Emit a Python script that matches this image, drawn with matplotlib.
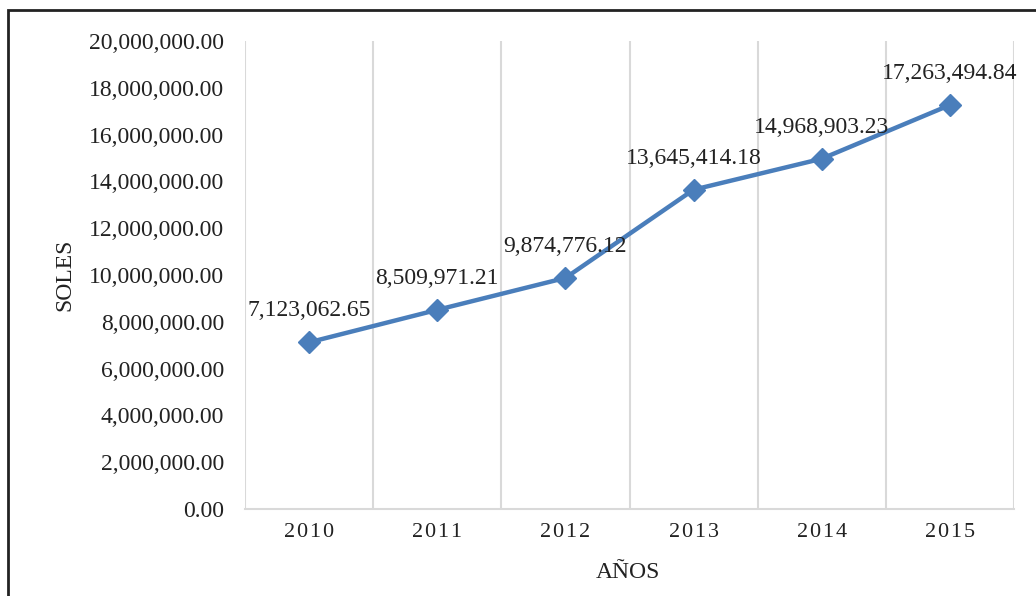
import matplotlib
matplotlib.use("Agg")
import matplotlib.pyplot as plt
from matplotlib.patches import Rectangle
from matplotlib.ticker import FuncFormatter, MultipleLocator

years = ["2010", "2011", "2012", "2013", "2014", "2015"]
values = [7123062.65, 8509971.21, 9874776.12, 13645414.18, 14968903.23, 17263494.84]

plt.rcParams['font.family'] = ['Liberation Serif', 'DejaVu Serif']

W, H = 1036, 596
fig = plt.figure(figsize=(W / 100, H / 100), dpi=100)
fig.patch.set_facecolor('white')

# outer frame
fig.add_artist(Rectangle((8 / W, -0.01), 1.2, 1 - 10 / H + 0.01, transform=fig.transFigure,
                         fill=False, edgecolor='#222222', linewidth=2))

ax = fig.add_axes([245 / W, 1 - 509 / H, (1014 - 245) / W, (509 - 41) / H])
x = list(range(len(years)))
ax.plot(x, values, color='#4a7ebb', linewidth=3.2, marker='D', markersize=11,
        markerfacecolor='#4a7ebb', markeredgecolor='#4a7ebb', zorder=3)

ax.set_xlim(-0.5, len(years) - 0.5)
ax.set_ylim(0, 20000000)
ax.yaxis.set_major_locator(MultipleLocator(2000000))
ax.yaxis.set_major_formatter(FuncFormatter(lambda v, p: f"{v:,.2f}"))
ax.set_xticks(x)
ax.set_xticklabels(["\u200a".join(y) for y in years])

for b in [i - 0.5 for i in range(len(years) + 1)]:
    ax.axvline(b, color='#d9d9d9', linewidth=1.5, zorder=1)

for s in ['top', 'right', 'left']:
    ax.spines[s].set_visible(False)
ax.spines['bottom'].set_color('#d9d9d9')
ax.spines['bottom'].set_linewidth(1.5)
ax.tick_params(axis='both', length=0, colors='#222222')
ax.tick_params(axis='x', pad=10, labelsize=16)
ax.tick_params(axis='y', pad=15, labelsize=17)

for xi, v in zip(x, values):
    ax.annotate(f"{v:,.2f}", (xi, v), xytext=(0, 15), textcoords='offset points',
                ha='center', va='bottom', fontsize=17, color='#222222', zorder=4)

fig.text(65 / W, 1 - 275 / H, "SOLES", rotation=90, ha='center', va='center', fontsize=17, color='#222222')
fig.text(628 / W, 1 - 572 / H, "AÑOS", ha='center', va='center', fontsize=17, color='#222222')

fig.savefig("out.png", dpi=100, facecolor='white')
